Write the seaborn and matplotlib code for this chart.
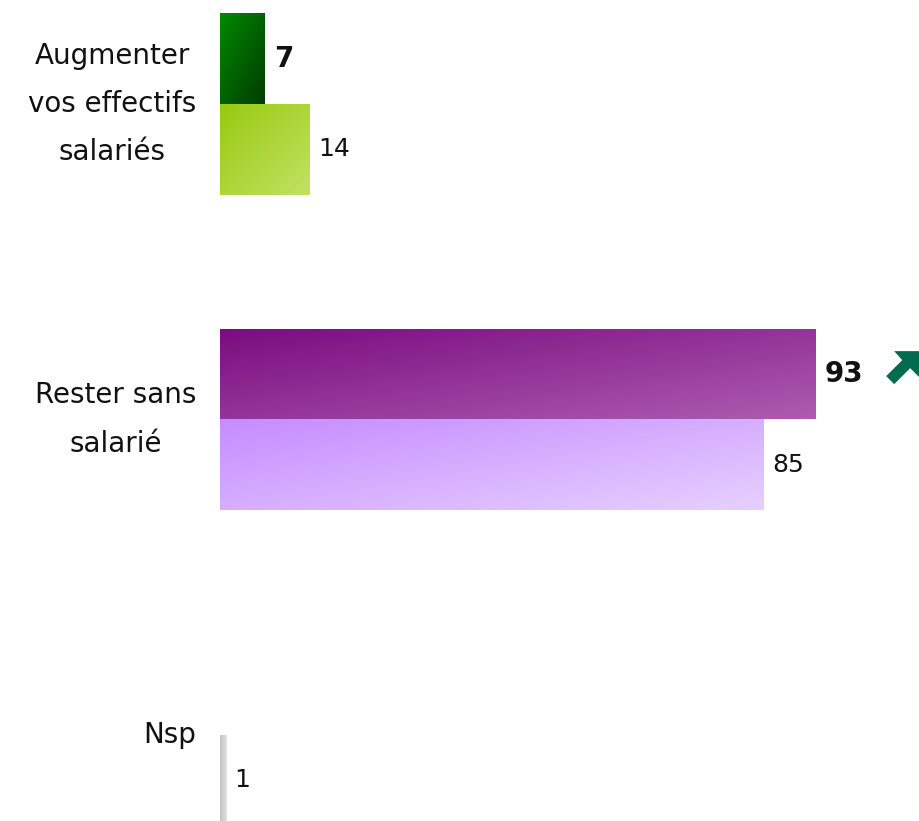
import numpy as np
import pandas as pd
import matplotlib
matplotlib.use("Agg")
import matplotlib.pyplot as plt
import matplotlib.colors as mcolors
import matplotlib.transforms as mtransforms
from matplotlib.patches import Polygon
import seaborn as sns

# Survey answers and the two waves
categories = ["Augmenter\nvos effectifs\nsalariés", "Rester sans\nsalarié", "Nsp"]
series = ["Vague actuelle", "Vague précédente"]
current = [7, 93, 0]
previous = [14, 85, 1]

# Gradient end colours per (series, category): (top-left, bottom-right, direction)
gradients = {
    (0, 0): ("#008a00", "#003c00", "diag"),
    (0, 1): ("#7a0c80", "#ad5cb0", "diag"),
    (1, 0): ("#98ca10", "#c2e262", "diag"),
    (1, 1): ("#c68cff", "#e6d0ff", "diag"),
    (1, 2): ("#c2c2c2", "#e2e2e2", "horiz"),
}

sns.set_theme(style="white")
plt.rcParams["font.family"] = ["DejaVu Sans"]

df = pd.DataFrame({
    "categorie": categories * 2,
    "serie": [series[0]] * 3 + [series[1]] * 3,
    "valeur": current + previous,
})

fig = plt.figure(figsize=(9.2, 8.21), dpi=100)
ax = fig.add_axes([220 / 920, 0, 700 / 920, 1])

sns.barplot(data=df, x="valeur", y="categorie", hue="serie", orient="h",
            order=categories, hue_order=series, width=0.575, gap=0,
            dodge=True, legend=False, palette=["#008000", "#a0d020"],
            ax=ax)

xlim = (0, 700 / 6.4)
ylim = (2.2726, -0.3296)


def gradient_fill(patch, c0, c1, mode):
    x0, y0 = patch.get_x(), patch.get_y()
    w, h = patch.get_width(), patch.get_height()
    if w <= 0:
        return
    n = 64
    gx, gy = np.meshgrid(np.linspace(0, 1, n), np.linspace(0, 1, n))
    t = gx if mode == "horiz" else (gx + gy) / 2
    a = np.array(mcolors.to_rgb(c0))
    b = np.array(mcolors.to_rgb(c1))
    img = a[None, None, :] * (1 - t[..., None]) + b[None, None, :] * t[..., None]
    patch.set_facecolor("none")
    patch.set_edgecolor("none")
    im = ax.imshow(img, extent=(x0, x0 + w, y0 + h, y0), origin="upper",
                   aspect="auto", interpolation="bilinear", zorder=2)
    im.set_clip_path(patch)


for s, cont in enumerate(ax.containers):
    for c, patch in enumerate(cont.patches):
        key = (s, c)
        if key in gradients:
            gradient_fill(patch, *gradients[key])
        else:
            patch.set_facecolor("none")
            patch.set_edgecolor("none")

ax.set_xlim(*xlim)
ax.set_ylim(*ylim)

# Value labels
ax.bar_label(ax.containers[0], labels=[str(v) if v else "" for v in current],
             padding=7, fontsize=20, fontweight="bold", color="#111111")
ax.bar_label(ax.containers[1], labels=[str(v) if v else "" for v in previous],
             padding=6, fontsize=18, color="#111111")

# Trend arrow next to the rising answer (vertices in pixels, y pointing down,
# relative to the end of the bar)
up_bar = ax.containers[0].patches[1]
anchor = (up_bar.get_width(), up_bar.get_y() + up_bar.get_height() / 2)
arrow_px = [(104, -23), (79, -23), (87, -14), (71, 2), (79, 10), (95, -6), (104, 3)]
arrow_tr = (mtransforms.Affine2D().scale(1, -1)
            + mtransforms.ScaledTranslation(anchor[0], anchor[1], ax.transData))
ax.add_patch(Polygon(arrow_px, closed=True, transform=arrow_tr,
                     facecolor="#006b4f", edgecolor="none", clip_on=False))

# Category labels
ax.set_yticks(range(len(categories)))
ax.set_yticklabels(categories)
for lab in ax.get_yticklabels():
    lab.set_fontsize(20)
    lab.set_multialignment("center")
    lab.set_verticalalignment("center")
    lab.set_linespacing(1.92)
    lab.set_color("#111111")
ax.tick_params(axis="y", length=0, pad=17)
ax.set_xticks([])
ax.set_xlabel("")
ax.set_ylabel("")
sns.despine(ax=ax, left=True, bottom=True)

fig.savefig("out.png", dpi=100)
